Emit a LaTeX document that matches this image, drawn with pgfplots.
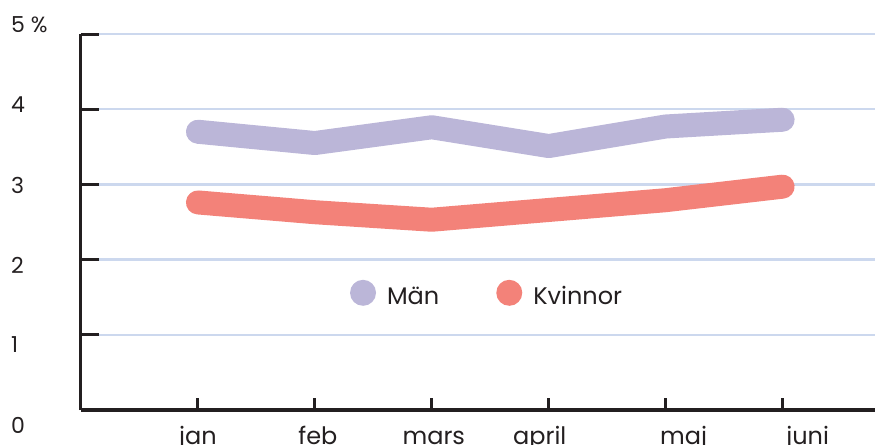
\documentclass[border=0pt]{standalone}
\usepackage{pgfplots}
\pgfplotsset{compat=1.18}
\usepackage{fontspec}
\setmainfont{Poppins}

\definecolor{man}{HTML}{BBB6D8}
\definecolor{kvinnor}{HTML}{F38279}
\definecolor{gridc}{HTML}{CCD8EE}
\definecolor{axc}{HTML}{231F20}

\begin{document}
\begin{tikzpicture}
\path[use as bounding box] (-81bp,-35bp) rectangle (794bp,410bp);
\begin{axis}[
    scale only axis,
    width=794bp, height=376bp,
    xmin=0, xmax=6.79,
    ymin=0, ymax=5,
    axis lines*=left,
    axis line style={line width=3bp, color=axc},
    tick align=inside,
    major tick length=18bp,
    tick style={line width=3bp, color=axc},
    xtick style={/pgfplots/major tick length=12bp},
    xtick={1,2,3,4,5,6},
    xticklabels={jan,feb,mars,april,maj,juni},
    ytick={0,1,2,3,4,5},
    yticklabels={0,1,2,3,4,5 \%},
    /pgf/number format/assume math mode=true,
    xticklabel style={font=\fontsize{24bp}{27bp}\selectfont, color=axc,
        anchor=base, inner sep=0pt, yshift=-34bp,
        xshift={{0,3,2,-9,18,25}[\ticknum]*1bp}},
    yticklabel style={font=\fontsize{22bp}{25bp}\selectfont, color=axc,
        anchor=west, inner sep=0pt, xshift=-70bp,
        yshift={(4.8*\ticknum-15)*1bp}},
    ymajorgrids,
    major grid style={line width=2.5bp, color=gridc},
    legend columns=2,
    legend style={draw=none, fill=none, inner sep=0pt,
        at={(axis cs:2.299,1.556)}, anchor=west,
        font=\fontsize{24bp}{27bp}\selectfont, text=axc,
        nodes={inner sep=0pt},
        /tikz/every odd column/.append style={column sep=11bp},
        /tikz/every even column/.append style={column sep=57bp}},
]
\addplot[color=man, line width=24bp, line cap=round, line join=round,
    legend image code/.code={\fill[man, draw=none] (13bp,0.35em) circle[radius=13bp];}]
    coordinates {(1,3.70) (2,3.55) (3,3.76) (4,3.51) (5,3.77) (6,3.86)};
\addlegendentry{Män}
\addplot[color=kvinnor, line width=24bp, line cap=round, line join=round,
    legend image code/.code={\fill[kvinnor, draw=none] (13bp,0.35em) circle[radius=13bp];}]
    coordinates {(1,2.76) (2,2.63) (3,2.53) (4,2.66) (5,2.79) (6,2.97)};
\addlegendentry{Kvinnor}
\end{axis}
\end{tikzpicture}
\end{document}
